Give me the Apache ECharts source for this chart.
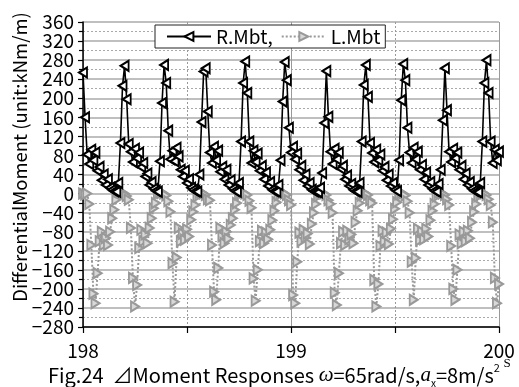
<!DOCTYPE html>
<html>
<head>
<meta charset="utf-8">
<script src="https://cdn.jsdelivr.net/npm/echarts@6/dist/echarts.min.js"></script>
<style>
  html, body { margin: 0; padding: 0; background: #fff; }
  #chart { width: 519px; height: 387px; }
</style>
</head>
<body>
<div id="chart"></div>
<script>
// Time axis: samples every 0.01 s starting at 198 s
const tStart = 198;
const tStep = 0.01;

// Right-side differential moment, kNm/m
const rMbt = [
  254, 160, 82, 62, 92, 70, 86, 48, 56, 28,
  40, 18, 30, 12, 8, 5, 4, 22, 106, 226,
  268, 198, 104, 88, 66, 94, 74, 86, 56, 64,
  36, 42, 18, 24, 10, 6, 4, 68, 190, 270,
  232, 132, 72, 90, 68, 96, 78, 50, 36, 48,
  22, 30, 12, 8, 5, 4, 40, 150, 256, 263,
  172, 86, 64, 98, 70, 90, 46, 56, 30, 50,
  18, 28, 10, 6, 4, 22, 109, 232, 277, 211,
  109, 64, 90, 66, 84, 48, 58, 30, 44, 16,
  24, 8, 5, 4, 18, 70, 193, 276, 238, 138,
  86, 98, 72, 84, 50, 58, 28, 40, 16, 22,
  8, 5, 4, 3, 12, 43, 148, 257, 161, 88,
  62, 94, 72, 86, 52, 58, 30, 38, 16, 20,
  8, 5, 4, 22, 109, 228, 270, 203, 106, 85,
  66, 92, 70, 82, 48, 56, 28, 40, 16, 22,
  8, 5, 70, 196, 272, 238, 138, 86, 64, 96,
  72, 88, 50, 60, 30, 44, 18, 24, 10, 6,
  4, 20, 50, 154, 263, 175, 88, 66, 94, 74,
  86, 50, 58, 30, 42, 18, 24, 10, 6, 4,
  3, 22, 109, 232, 280, 211, 109, 64, 92, 70,
  88
];

// Left-side differential moment, kNm/m
const lMbt = [
  0, -2, 0, -22, -108, -210, -230, -167, -100, -80,
  -108, -93, -108, -80, -52, -34, -13, 4, 3, 2,
  0, -5, -13, -72, -177, -237, -192, -114, -76, -100,
  -86, -104, -72, -52, -31, -20, 0, 3, 2, 0,
  -4, -16, -38, -146, -227, -134, -72, -100, -84, -97,
  -75, -90, -55, -38, -24, -6, 2, 3, 0, -3,
  -12, -14, -108, -206, -223, -156, -72, -90, -104, -80,
  -95, -66, -52, -34, -20, -2, 3, 2, 0, -3,
  -15, -30, -178, -225, -160, -100, -78, -104, -82, -96,
  -76, -56, -36, -18, -4, 2, 3, 0, -3, -14,
  -24, -213, -230, -143, -82, -100, -76, -92, -84, -106,
  -64, -40, -22, -6, 2, 3, 0, -3, -14, -22,
  -40, -208, -234, -167, -104, -80, -108, -78, -96, -86,
  -104, -60, -36, -20, -4, 2, 0, -3, -14, -20,
  -181, -237, -190, -110, -78, -100, -82, -106, -74, -54,
  -32, -18, -2, 2, 0, -4, -16, -40, -143, -223,
  -135, -74, -98, -80, -96, -74, -90, -56, -36, -22,
  -6, 2, 3, 0, -3, -12, -24, -110, -200, -223,
  -160, -86, -104, -80, -100, -78, -94, -60, -38, -22,
  -6, 2, 3, 0, -3, -12, -24, -60, -177, -230,
  -190
];

const seriesNames = ['R.Mbt', 'L.Mbt'];
const xRange = [198, 200];
const yRange = [-280, 360];
const yStep = 40;

const FONT = '"Noto Sans CJK JP", "Noto Sans", sans-serif';

function withTime(values) {
  return values.map((v, i) => [+(tStart + i * tStep).toFixed(2), v]);
}

const chart = echarts.init(document.getElementById('chart'), null, { renderer: 'canvas' });

chart.setOption({
  animation: false,
  backgroundColor: '#fff',
  grid: { left: 83, right: 20, top: 22, bottom: 60, outerBoundsMode: 'none' },
  legend: {
    data: seriesNames,
    left: 155,
    top: 25,
    itemWidth: 44,
    itemHeight: 11,
    itemGap: 8,
    padding: [2, 5, 2, 11],
    borderColor: '#222',
    borderWidth: 1,
    backgroundColor: '#fff',
    textStyle: { fontSize: 19, color: '#000', fontFamily: FONT },
    formatter: n => (n === 'R.Mbt' ? 'R.Mbt,' : n)
  },
  xAxis: {
    type: 'value',
    min: xRange[0],
    max: xRange[1],
    interval: 1,
    axisLine: { onZero: false, lineStyle: { color: '#000', width: 1.5 } },
    axisTick: { show: true, length: 6, lineStyle: { color: '#000', width: 1.2 } },
    minorTick: { show: true, splitNumber: 2, length: 6, lineStyle: { color: '#000', width: 1.2 } },
    splitLine: { show: true, lineStyle: { color: '#999', width: 1 } },
    minorSplitLine: { show: true, lineStyle: { color: '#999', width: 1, type: [2, 2] } },
    axisLabel: { fontSize: 19, color: '#000', fontFamily: FONT, margin: 14 }
  },
  yAxis: {
    type: 'value',
    min: yRange[0],
    max: yRange[1],
    interval: yStep,
    axisLine: { show: true, onZero: false, lineStyle: { color: '#000', width: 1.5 } },
    axisTick: { show: true, length: 5, lineStyle: { color: '#000', width: 1.2 } },
    minorTick: { show: true, splitNumber: 2, length: 4, lineStyle: { color: '#000', width: 1.2 } },
    splitLine: { show: true, lineStyle: { color: '#aaa', width: 1.5 } },
    minorSplitLine: { show: true, lineStyle: { color: '#aaa', width: 1, type: [2, 2] } },
    axisLabel: {
      fontSize: 19, color: '#000', fontFamily: FONT, margin: 9,
      formatter: v => String(v).replace('-', '\u2212')
    }
  },
  series: [
    {
      name: 'L.Mbt',
      type: 'line',
      data: withTime(lMbt),
      symbol: 'triangle',
      symbolRotate: -90,
      symbolSize: [10, 8],
      showAllSymbol: true,
      lineStyle: { color: '#999', width: 2, type: [2, 2] },
      itemStyle: { color: '#d8d8d8', borderColor: '#999', borderWidth: 2 },
      z: 2
    },
    {
      name: 'R.Mbt',
      type: 'line',
      data: withTime(rMbt),
      symbol: 'triangle',
      symbolRotate: 90,
      symbolSize: [10, 8],
      showAllSymbol: true,
      lineStyle: { color: '#000', width: 1.6 },
      itemStyle: { color: '#fff', borderColor: '#000', borderWidth: 2 },
      z: 3
    }
  ],
  graphic: [
    {
      type: 'text',
      x: 20, y: 157,
      rotation: Math.PI / 2,
      style: {
        text: 'DifferentialMoment (unit:kNm/m)',
        fontSize: 18.5, fontFamily: FONT, fill: '#000',
        align: 'center', verticalAlign: 'middle'
      }
    },
    {
      type: 'text',
      x: 48, y: 375,
      style: {
        text: 'Fig.24  \u22BFMoment Responses {it|\u03C9}=65rad/s,{it|a}{sub|x}=8m/s{sup|2}',
        fontSize: 20, fontFamily: FONT, fill: '#000',
        lineHeight: 26,
        align: 'left', verticalAlign: 'middle',
        rich: {
          it: { fontSize: 21, fontFamily: '"Liberation Serif", serif', fontStyle: 'italic', lineHeight: 26 },
          sub: { fontSize: 10, fontFamily: FONT, lineHeight: 10, verticalAlign: 'bottom' },
          sup: { fontSize: 11, fontFamily: FONT, lineHeight: 10, verticalAlign: 'top' }
        }
      }
    },
    {
      type: 'text',
      x: 507, y: 364,
      style: {
        text: 'S', fontSize: 13, fontFamily: '"Liberation Serif", serif', fill: '#000',
        align: 'center', verticalAlign: 'middle'
      }
    }
  ]
});
</script>
</body>
</html>
